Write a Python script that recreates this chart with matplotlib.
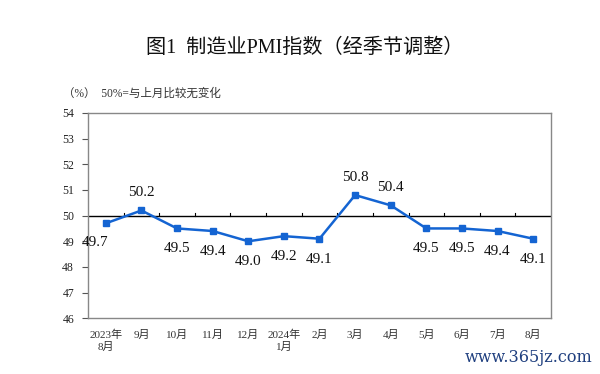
import matplotlib
matplotlib.use("Agg")
import matplotlib.pyplot as plt

plt.rcParams['font.family'] = ['Liberation Serif', 'Noto Sans CJK SC', 'DejaVu Sans']

months = ['2023年\n8月', '9月', '10月', '11月', '12月', '2024年\n1月', '2月',
          '3月', '4月', '5月', '6月', '7月', '8月']
pmi = [49.7, 50.2, 49.5, 49.4, 49.0, 49.2, 49.1, 50.8, 50.4, 49.5, 49.5, 49.4, 49.1]
y_ticks = [46, 47, 48, 49, 50, 51, 52, 53, 54]

line_color = '#1464d2'

fig = plt.figure(figsize=(6, 3.74), dpi=100)
ax = fig.add_axes([0.1467, 0.149, 0.7716, 0.549])

x = list(range(len(months)))
ax.plot(x, pmi, color=line_color, linewidth=1.8, marker='s', markersize=5, zorder=3)

# 50 reference line with category ticks pointing up
ax.axhline(50, color='black', linewidth=1.0, zorder=2)
for b in range(len(months) - 1):
    ax.plot([b + 0.5, b + 0.5], [50, 50.12], color='black', linewidth=0.8, zorder=2)

for i, v in enumerate(pmi):
    if v > 50:
        off = (0, 8)
        va = 'bottom'
    else:
        off = (0, -10)
        va = 'top'
    if i == 0:
        off = (-8, -9)
    ax.annotate(f'{v:.1f}', (i, v), textcoords='offset points', xytext=off,
                ha='center', va=va, fontsize=11, color='#111111')

ax.set_xlim(-0.5, len(months) - 0.5)
ax.set_ylim(46, 54)
ax.set_yticks(y_ticks)
ax.set_xticks(x)
ax.set_xticklabels(months, fontsize=8, color='#333333', linespacing=1.3)
ax.tick_params(axis='x', length=0, pad=8)
ax.tick_params(axis='y', length=4, width=0.8, color='#555555', labelsize=8.5,
               labelcolor='#222222', pad=6)
for s in ax.spines.values():
    s.set_color('#888888')
    s.set_linewidth(1.0)

fig.text(0.508, 0.872, '图1  制造业PMI指数（经季节调整）', ha='center', va='center',
         fontsize=14.5, fontweight='medium', color='#111111')
fig.text(0.105, 0.75, '（%）  50%=与上月比较无变化', ha='left', va='center',
         fontsize=8.3, color='#333333')
fig.text(0.988, 0.043, 'www.365jz.com', ha='right', va='center',
         fontsize=11.5, color='#1f3f7f', family=['DejaVu Serif'])

fig.savefig('out.png', dpi=100, facecolor='white')
